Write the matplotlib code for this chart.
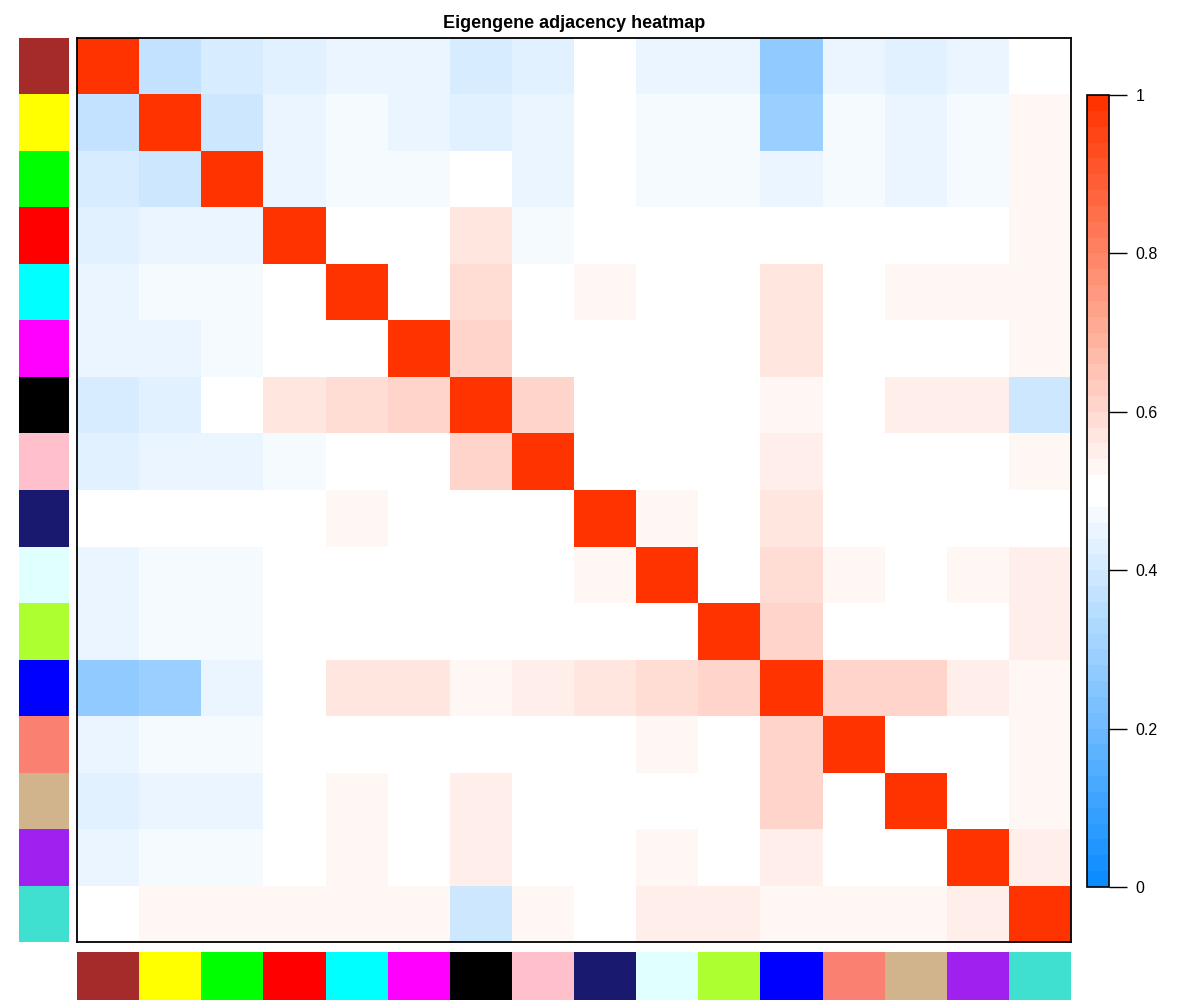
import numpy as np
import matplotlib
matplotlib.use("Agg")
import matplotlib.pyplot as plt
from matplotlib.colors import ListedColormap, BoundaryNorm, to_rgb
from matplotlib.ticker import NullLocator
import matplotlib.colorbar as mcolorbar

plt.rcParams['font.family'] = ['Liberation Sans', 'DejaVu Sans']

modules = ["brown", "yellow", "green", "red", "cyan", "magenta", "black", "pink",
           "midnightblue", "lightcyan", "greenyellow", "blue", "salmon", "tan",
           "purple", "turquoise"]
module_hex = ["#A52A2A", "#FFFF00", "#00FF00", "#FF0000", "#00FFFF", "#FF00FF",
              "#000000", "#FFC0CB", "#191970", "#E0FFFF", "#ADFF2F", "#0000FF",
              "#FA8072", "#D2B48C", "#A020F0", "#40E0D0"]

adjacency = [
    [1.00, 0.37, 0.41, 0.43, 0.45, 0.45, 0.41, 0.43, 0.50, 0.45, 0.45, 0.27, 0.45, 0.43, 0.45, 0.50],
    [0.37, 1.00, 0.39, 0.45, 0.47, 0.45, 0.43, 0.45, 0.50, 0.47, 0.47, 0.29, 0.47, 0.45, 0.47, 0.53],
    [0.41, 0.39, 1.00, 0.45, 0.47, 0.47, 0.50, 0.45, 0.50, 0.47, 0.47, 0.45, 0.47, 0.45, 0.47, 0.53],
    [0.43, 0.45, 0.45, 1.00, 0.50, 0.50, 0.57, 0.47, 0.50, 0.50, 0.50, 0.50, 0.50, 0.50, 0.50, 0.53],
    [0.45, 0.47, 0.47, 0.50, 1.00, 0.50, 0.59, 0.50, 0.53, 0.50, 0.50, 0.57, 0.50, 0.53, 0.53, 0.53],
    [0.45, 0.45, 0.47, 0.50, 0.50, 1.00, 0.61, 0.50, 0.50, 0.50, 0.50, 0.57, 0.50, 0.50, 0.50, 0.53],
    [0.41, 0.43, 0.50, 0.57, 0.59, 0.61, 1.00, 0.61, 0.50, 0.50, 0.50, 0.53, 0.50, 0.55, 0.55, 0.39],
    [0.43, 0.45, 0.45, 0.47, 0.50, 0.50, 0.61, 1.00, 0.50, 0.50, 0.50, 0.55, 0.50, 0.50, 0.50, 0.53],
    [0.50, 0.50, 0.50, 0.50, 0.53, 0.50, 0.50, 0.50, 1.00, 0.53, 0.50, 0.57, 0.50, 0.50, 0.50, 0.50],
    [0.45, 0.47, 0.47, 0.50, 0.50, 0.50, 0.50, 0.50, 0.53, 1.00, 0.50, 0.59, 0.53, 0.50, 0.53, 0.55],
    [0.45, 0.47, 0.47, 0.50, 0.50, 0.50, 0.50, 0.50, 0.50, 0.50, 1.00, 0.61, 0.50, 0.50, 0.50, 0.55],
    [0.27, 0.29, 0.45, 0.50, 0.57, 0.57, 0.53, 0.55, 0.57, 0.59, 0.61, 1.00, 0.61, 0.61, 0.55, 0.53],
    [0.45, 0.47, 0.47, 0.50, 0.50, 0.50, 0.50, 0.50, 0.50, 0.53, 0.50, 0.61, 1.00, 0.50, 0.50, 0.53],
    [0.43, 0.45, 0.45, 0.50, 0.53, 0.50, 0.55, 0.50, 0.50, 0.50, 0.50, 0.61, 0.50, 1.00, 0.50, 0.53],
    [0.45, 0.47, 0.47, 0.50, 0.53, 0.50, 0.55, 0.50, 0.50, 0.53, 0.50, 0.55, 0.50, 0.50, 1.00, 0.55],
    [0.50, 0.53, 0.53, 0.53, 0.53, 0.53, 0.39, 0.53, 0.50, 0.55, 0.55, 0.53, 0.53, 0.53, 0.55, 1.00],
]
cbar_ticks = [0, 0.2, 0.4, 0.6, 0.8, 1]
cbar_labels = ["0", "0.2", "0.4", "0.6", "0.8", "1"]
title = "Eigengene adjacency heatmap"


def blue_white_red(n):
    blue_end = np.array([0.05, 0.55, 1.0])
    red_end = np.array([1.0, 0.2, 0.0])
    mid = np.array([1.0, 1.0, 1.0])
    half = n // 2
    frac1 = np.arange(half) / (half - 1)
    frac2 = frac1[::-1]
    cols = np.zeros((n, 3))
    cols[:half] = blue_end + (mid - blue_end) * frac1[:, None]
    cols[half:] = red_end + (mid - red_end) * frac2[:, None]
    return cols


ncol = 50
cmap = ListedColormap(blue_white_red(ncol))
norm = BoundaryNorm(np.linspace(0, 1, ncol + 1), ncol)

W, H = 1200, 1000
fig = plt.figure(figsize=(12, 10), dpi=100)


def px_axes(x0, y0, x1, y1):
    return fig.add_axes([x0 / W, 1 - y1 / H, (x1 - x0) / W, (y1 - y0) / H])


n = len(modules)
mat = np.array(adjacency)

# main heatmap
ax = px_axes(77, 38, 1071, 942)
ax.pcolormesh(np.arange(n + 1), np.arange(n + 1), mat, cmap=cmap, norm=norm)
ax.set_xlim(0, n)
ax.set_ylim(n, 0)
ax.set_xticks([])
ax.set_yticks([])
for s in ax.spines.values():
    s.set_linewidth(1.3)
    s.set_color("black")
ax.set_title(title, fontsize=13, fontweight="bold", pad=7)

mod_cmap = ListedColormap([to_rgb(c) for c in module_hex])
idx = np.arange(n)

# row colour bar
axr = px_axes(19, 38, 69, 942)
axr.pcolormesh([0, 1], np.arange(n + 1), idx[:, None], cmap=mod_cmap, vmin=-0.5, vmax=n - 0.5)
axr.set_ylim(n, 0)
axr.set_axis_off()

# column colour bar
axc = px_axes(77, 952, 1071, 1000)
axc.pcolormesh(np.arange(n + 1), [0, 1], idx[None, :], cmap=mod_cmap, vmin=-0.5, vmax=n - 0.5)
axc.set_xlim(0, n)
axc.set_axis_off()

# colour legend
axb = px_axes(1087, 95, 1109, 887)
cb = mcolorbar.ColorbarBase(axb, cmap=cmap, norm=norm, orientation="vertical",
                            ticks=cbar_ticks, drawedges=False)
cb.set_ticklabels(cbar_labels)
cb.outline.set_linewidth(1.2)
cb.outline.set_edgecolor("black")
axb.yaxis.set_minor_locator(NullLocator())
axb.tick_params(axis="y", which="major", direction="out", length=13, width=1,
                labelsize=11.5, pad=6)

fig.savefig("out.png", dpi=100)
